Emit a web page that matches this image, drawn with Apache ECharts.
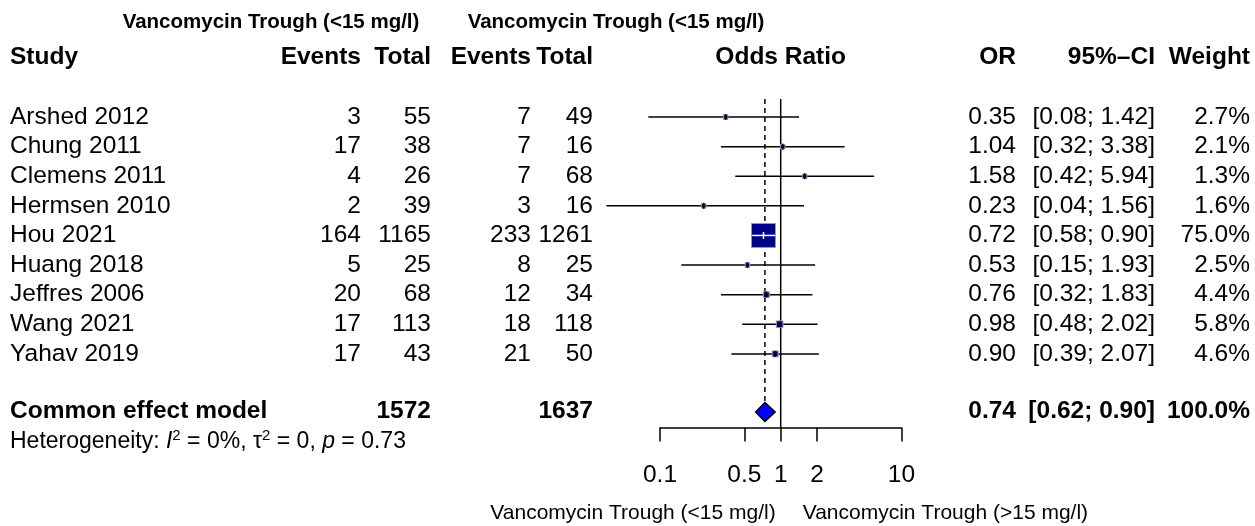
<!DOCTYPE html>
<html><head><meta charset="utf-8">
<script src="https://cdn.jsdelivr.net/npm/echarts@6/dist/echarts.min.js"></script>
<style>html,body{margin:0;padding:0;background:#fff}#c{width:1255px;height:526px}</style>
</head><body><div id="c"></div>
<script>
const studies = ["Arshed 2012","Chung 2011","Clemens 2011","Hermsen 2010","Hou 2021","Huang 2018","Jeffres 2006","Wang 2021","Yahav 2019"];
const eventsLow = [3,17,4,2,164,5,20,17,17];
const totalLow = [55,38,26,39,1165,25,68,113,43];
const eventsHigh = [7,7,7,3,233,8,12,18,21];
const totalHigh = [49,16,68,16,1261,25,34,118,50];
const oddsRatio = [0.35,1.04,1.58,0.23,0.72,0.53,0.76,0.98,0.90];
const ciLower = [0.08,0.32,0.42,0.036,0.58,0.15,0.32,0.48,0.39];
const ciUpper = [1.42,3.38,5.94,1.56,0.90,1.93,1.83,2.02,2.07];
const weights = [2.7,2.1,1.3,1.6,75.0,2.5,4.4,5.8,4.6];
const pooledLabel = "Common effect model";
const pooledTotals = [1572,1637];
const pooledEstimate = [0.74,0.62,0.90];
const pooledWeight = 100.0;
const tickValues = [0.1,0.5,1,2,10];
const groupLow = "Vancomycin Trough (<15 mg/l)";
const groupHigh = "Vancomycin Trough (>15 mg/l)";

const FONT = '"Liberation Sans", Arial, Helvetica, sans-serif';
const ROW_FS = 24.5, HEAD_FS = 24.5, SUB_FS = 20.5, BOT_FS = 21;
const POOLED_ROW = 9.93;
const X_STUDY = 10, X_EV1 = 361, X_TOT1 = 431, X_EV2 = 531, X_TOT2 = 593, X_OR = 1016, X_CI = 1155, X_W = 1250;

function txt(x, y, s, align, bold, fs) {
  return {type:'text', style:{x:x, y:y, text:s, align:align, verticalAlign:'middle',
    font:(bold?'bold ':'')+(fs||ROW_FS)+'px '+FONT, fill:'#000'}};
}

const studyData = studies.map((s,i)=>[oddsRatio[i],ciLower[i],ciUpper[i],weights[i],i]);
const tableRows = studies.map((s,i)=>[1,i]);

const chart = echarts.init(document.getElementById('c'), null, {renderer:'canvas'});
chart.setOption({
  animation:false,
  backgroundColor:'#fff',
  grid:{left:660, right:1255-901.4, top:28.2, bottom:526-427.6, containLabel:false},
  xAxis:{type:'log', logBase:10, min:0.1, max:10,
    axisLine:{show:true, onZero:false, lineStyle:{color:'#000', width:1.5}},
    axisTick:{show:true, customValues:tickValues, length:14, lineStyle:{color:'#000', width:1.5}},
    axisLabel:{show:true, customValues:tickValues, margin:35.5, fontSize:ROW_FS, fontFamily:FONT, color:'#000',
      formatter:v=>String(v)},
    splitLine:{show:false}, minorTick:{show:false}},
  yAxis:{type:'value', inverse:true, min:-3, max:10.49, show:false},
  series:[
    {type:'line', silent:true, symbol:'none', data:[[1,-0.61],[1,10.49]], lineStyle:{color:'#000', width:1.5}, z:2},
    {type:'line', silent:true, symbol:'none', data:[[pooledEstimate[0],-0.61],[pooledEstimate[0],POOLED_ROW-0.3]], lineStyle:{color:'#000', width:1.5, type:[5,4]}, z:2},
    {type:'custom', clip:false, silent:true, data:studyData, z:3,
      renderItem:function(params, api){
        const or = api.value(0), lo = api.value(1), hi = api.value(2), w = api.value(3), i = api.value(4);
        const pL = api.coord([lo,i]), pH = api.coord([hi,i]), pC = api.coord([or,i]);
        const side = Math.max(24*Math.sqrt(w/75), 4.5);
        const children = [
          {type:'line', shape:{x1:pL[0], y1:pL[1], x2:pH[0], y2:pH[1]}, style:{stroke:'#000', lineWidth:1.5}},
          {type:'rect', shape:{x:pC[0]-side/2, y:pC[1]-side/2, width:side, height:side}, style:{fill:'#00008B', stroke:'#9a9a9a', lineWidth:1}}
        ];
        if (pH[0]-pL[0] < side) {
          children.push({type:'line', shape:{x1:pL[0], y1:pL[1], x2:pH[0], y2:pH[1]}, style:{stroke:'#fff', lineWidth:1.5}});
          children.push({type:'line', shape:{x1:pC[0], y1:pC[1]-3.5, x2:pC[0], y2:pC[1]+3.5}, style:{stroke:'#fff', lineWidth:1.5}});
        } else {
          children.push({type:'line', shape:{x1:pC[0], y1:pC[1]-3, x2:pC[0], y2:pC[1]+3}, style:{stroke:'#000', lineWidth:1.5}});
        }
        return {type:'group', children:children};
      }},
    {type:'custom', clip:false, silent:true, data:[pooledEstimate], z:4,
      renderItem:function(params, api){
        const or = api.value(0), lo = api.value(1), hi = api.value(2);
        const r = POOLED_ROW+0.03;
        const a = api.coord([lo,r]), b = api.coord([or,r-0.32]), c = api.coord([hi,r]), d = api.coord([or,r+0.32]);
        return {type:'polygon', shape:{points:[a,b,c,d]}, style:{fill:'#0000FF', stroke:'#000', lineWidth:1.5}};
      }},
    {type:'custom', clip:false, silent:true, data:tableRows, z:5,
      renderItem:function(params, api){
        const i = api.value(1);
        const y = api.coord([1,i])[1];
        const ci = '['+ciLower[i].toFixed(2)+'; '+ciUpper[i].toFixed(2)+']';
        return {type:'group', children:[
          txt(X_STUDY,y,studies[i],'left'),
          txt(X_EV1,y,String(eventsLow[i]),'right'),
          txt(X_TOT1,y,String(totalLow[i]),'right'),
          txt(X_EV2,y,String(eventsHigh[i]),'right'),
          txt(X_TOT2,y,String(totalHigh[i]),'right'),
          txt(X_OR,y,oddsRatio[i].toFixed(2),'right'),
          txt(X_CI,y,ci,'right'),
          txt(X_W,y,weights[i].toFixed(1)+'%','right')
        ]};
      }},
    {type:'custom', clip:false, silent:true, data:[[1,0]], z:5,
      renderItem:function(params, api){
        const yH = api.coord([1,-2.03])[1];
        const yT = api.coord([1,-3.2])[1];
        const yP = api.coord([1,POOLED_ROW])[1];
        const yHet = api.coord([1,POOLED_ROW+1.05])[1];
        const x1 = api.coord([1,0])[0];
        const ci = '['+pooledEstimate[1].toFixed(2)+'; '+pooledEstimate[2].toFixed(2)+']';
        return {type:'group', children:[
          txt(271,yT,groupLow,'center',true,SUB_FS),
          txt(616,yT,groupLow,'center',true,SUB_FS),
          txt(X_STUDY,yH,'Study','left',true,HEAD_FS),
          txt(X_EV1,yH,'Events','right',true,HEAD_FS),
          txt(X_TOT1,yH,'Total','right',true,HEAD_FS),
          txt(X_EV2,yH,'Events','right',true,HEAD_FS),
          txt(X_TOT2,yH,'Total','right',true,HEAD_FS),
          txt(x1,yH,'Odds Ratio','center',true,HEAD_FS),
          txt(X_OR,yH,'OR','right',true,HEAD_FS),
          txt(X_CI,yH,'95%\u2013CI','right',true,HEAD_FS),
          txt(X_W,yH,'Weight','right',true,HEAD_FS),
          txt(X_STUDY,yP,pooledLabel,'left',true,HEAD_FS),
          txt(X_TOT1,yP,String(pooledTotals[0]),'right',true,HEAD_FS),
          txt(X_TOT2,yP,String(pooledTotals[1]),'right',true,HEAD_FS),
          txt(X_OR,yP,pooledEstimate[0].toFixed(2),'right',true,HEAD_FS),
          txt(X_CI,yP,ci,'right',true,HEAD_FS),
          txt(X_W,yP,pooledWeight.toFixed(1)+'%','right',true,HEAD_FS),
          {type:'text', style:{x:X_STUDY, y:yHet, verticalAlign:'middle', font:'23px '+FONT, fill:'#000',
            text:'{n|Heterogeneity: }{i|I}{s|2}{n| = 0%, \u03C4}{s|2}{n| = 0, }{i|p}{n| = 0.73}',
            rich:{n:{fontSize:23, fontFamily:FONT}, i:{fontSize:23, fontFamily:FONT, fontStyle:'italic'},
                  s:{fontSize:15, fontFamily:FONT, verticalAlign:'top', padding:[0,0,12,0]}}}},
          txt(x1-5,513,groupLow,'right',false,BOT_FS),
          txt(x1+22,513,groupHigh,'left',false,BOT_FS)
        ]};
      }}
  ]
});
</script></body></html>
